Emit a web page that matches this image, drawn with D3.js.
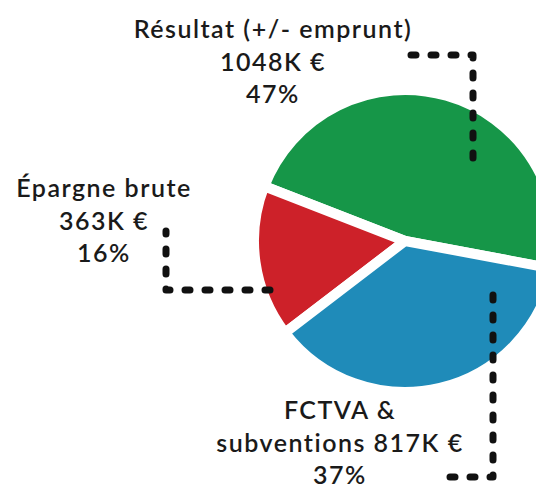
<!DOCTYPE html>
<html>
<head>
<meta charset="utf-8">
<script src="https://cdn.jsdelivr.net/npm/d3@7"></script>
<style>
  html, body { margin: 0; padding: 0; background: #ffffff; }
  svg { display: block; }
  text { font-family: Lato, "Open Sans", sans-serif; font-weight: 600; fill: #1a1a1a; }
</style>
</head>
<body>
<svg id="chart" width="536" height="488"></svg>
<script>
// ---- data ----
const categories = ["Résultat (+/- emprunt)", "Épargne brute", "FCTVA & subventions"];
const values = [1048, 363, 817];          // K €
const percents = [47, 16, 37];            // %
const colors = ["#169648", "#cd2129", "#1f8bb9"];
// label line splitting (text only)
const nameLine1 = ["Résultat (+/- emprunt)", "Épargne brute", "FCTVA &"];
const valuePrefix = ["", "", "subventions "];

// ---- layout ----
const W = 536, H = 488;
const cx = 405, cy = 241, R = 151;
const startDeg = 100.6;   // slices run counter-clockwise from here
const labelPos = [
  { x: 273, y: 38 },
  { x: 104, y: 197 },
  { x: 340, y: 419 }
];
const lineGap = 32.5;
const leaders = [
  [[473, 158], [473, 55], [405, 55]],
  [[270, 290], [166, 290], [166, 231]],
  [[493, 295], [493, 477], [448, 477]]
];

const svg = d3.select("#chart");
svg.append("rect").attr("width", W).attr("height", H).attr("fill", "#fff");

const start = startDeg * Math.PI / 180;
const pie = d3.pie().sort(null).value(d => d).startAngle(start).endAngle(start - 2 * Math.PI);
const arc = d3.arc().innerRadius(0).outerRadius(R);

const g = svg.append("g").attr("transform", `translate(${cx},${cy})`);
g.selectAll("path")
  .data(pie(values))
  .join("path")
  .attr("d", arc)
  .attr("fill", (d, i) => colors[i])
  .attr("stroke", "#fff")
  .attr("stroke-width", 10)
  .attr("stroke-linejoin", "round");

const line = d3.line();
svg.selectAll("path.leader")
  .data(leaders)
  .join("path")
  .attr("class", "leader")
  .attr("d", d => line(d))
  .attr("fill", "none")
  .attr("stroke", "#111")
  .attr("stroke-width", 7)
  .attr("stroke-linecap", "round")
  .attr("stroke-linejoin", "round")
  .attr("stroke-dasharray", "5 15");

const labelData = categories.map((c, i) => ({
  lines: [nameLine1[i], `${valuePrefix[i]}${values[i]}K €`, `${percents[i]}%`],
  pos: labelPos[i]
}));

labelData.forEach(ld => {
  const t = svg.append("text")
    .attr("text-anchor", "middle")
    .attr("font-size", 25)
    .attr("letter-spacing", 1.5);
  ld.lines.forEach((s, j) => {
    t.append("tspan")
      .attr("x", ld.pos.x)
      .attr("y", ld.pos.y + j * lineGap)
      .text(s);
  });
});
</script>
</body>
</html>
